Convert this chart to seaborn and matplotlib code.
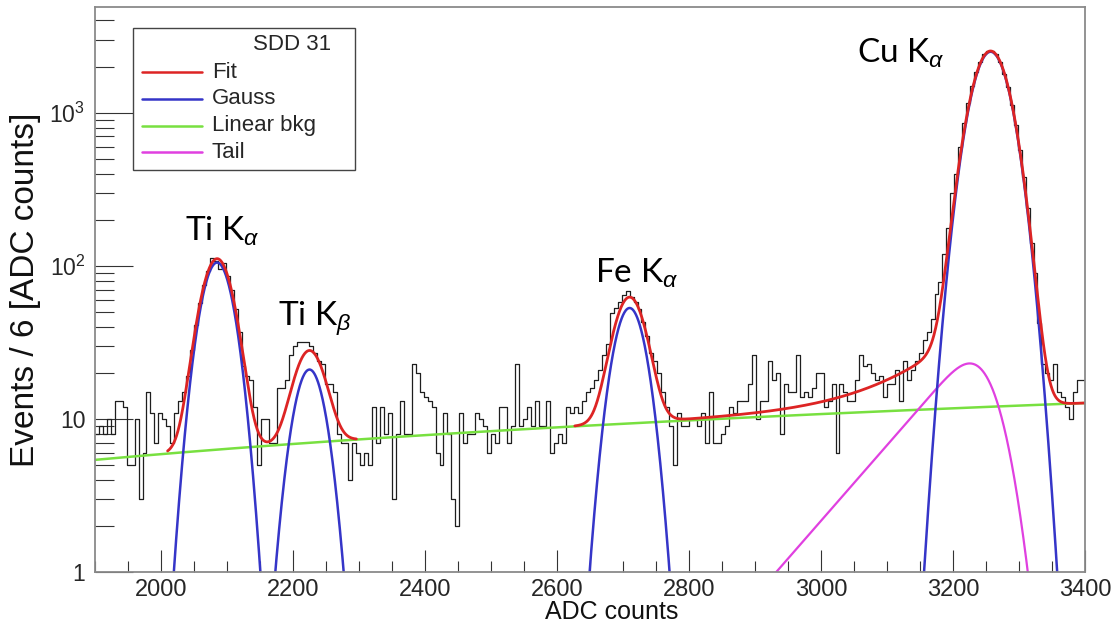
import math
import numpy as np
import pandas as pd
import matplotlib
matplotlib.use("Agg")
import matplotlib.pyplot as plt
import matplotlib.ticker as mticker
from matplotlib.patches import Rectangle
from matplotlib.lines import Line2D
import seaborn as sns

sns.set_theme(style="white")
plt.rcParams['font.family'] = ['Liberation Sans', 'DejaVu Sans']
plt.rcParams['mathtext.fontset'] = 'custom'
plt.rcParams['mathtext.rm'] = 'Liberation Sans'
plt.rcParams['mathtext.it'] = 'Liberation Sans:italic'

# --- histogram: 250 bins of 6 ADC counts, 1900..3400 ---
BIN_LO, BIN_HI, BIN_W = 1900, 3400, 6
counts = [
    8, 9, 8, 10, 8, 13, 13, 12, 5, 5,
    10, 3, 6, 15, 11, 7, 11, 10, 9, 7,
    11, 13, 15, 19, 28, 41, 57, 75, 92, 112,
    108, 95, 105, 86, 70, 52, 37, 22, 19, 18,
    12, 5, 10, 10, 7, 7, 16, 16, 18, 26,
    30, 32, 32, 32, 30, 27, 24, 23, 17, 17,
    15, 8, 7, 7, 4, 7, 6, 5, 6, 5,
    12, 7, 12, 8, 11, 3, 8, 13, 8, 8,
    23, 20, 15, 14, 13, 12, 6, 5, 11, 8,
    3, 2, 11, 7, 8, 8, 11, 10, 9, 6,
    8, 7, 12, 12, 7, 9, 23, 9, 10, 12,
    9, 13, 9, 9, 13, 6, 7, 8, 7, 12,
    11, 12, 11, 13, 15, 16, 18, 21, 26, 31,
    49, 53, 58, 64, 68, 63, 58, 52, 43, 35,
    27, 24, 20, 15, 12, 9, 5, 11, 9, 9,
    10, 10, 9, 11, 7, 15, 7, 7, 8, 9,
    12, 11, 13, 13, 13, 17, 26, 10, 13, 13,
    24, 18, 20, 8, 17, 15, 15, 26, 14, 15,
    14, 16, 20, 20, 12, 13, 17, 6, 17, 15,
    13, 13, 18, 26, 22, 23, 20, 18, 19, 14,
    17, 17, 21, 13, 24, 18, 21, 24, 27, 33,
    37, 45, 65, 78, 120, 177, 297, 400, 600, 850,
    1150, 1500, 1850, 2150, 2400, 2530, 2530, 2400, 2150, 1800,
    1480, 1130, 830, 570, 380, 240, 140, 90, 42, 23,
    20, 18, 23, 15, 14, 12, 10, 15, 18, 18,
]

# --- fit components ---
bkg_ends = (5.4, 12.7)          # linear background at 1900 and 3400
peak_names = ['Ti Ka', 'Ti Kb', 'Fe Ka', 'Cu Ka']
peak_amp = [105, 21, 53, 2500]
peak_mean = [2085, 2225, 2710, 3257]
peak_sigma = [21.5, 21, 21.5, 25.5]
tail_amp, tail_mean, tail_sigma, tail_beta = 20.8, 3260, 28, 3.14
fit_ranges = [(2010, 2296), (2627, 3400)]

peak_labels = [r'Ti K$_{\alpha}$', r'Ti K$_{\beta}$', r'Fe K$_{\alpha}$', r'Cu K$_{\alpha}$']
label_x = [2036, 2177, 2658, 3055]
label_y = [146, 40.4, 77.4, 2113]

legend_names = ['Fit', 'Gauss', 'Linear bkg', 'Tail']
c_fit, c_gauss, c_bkg, c_tail = '#dd2424', '#3535c8', '#78e040', '#e040e0'

_erfc = np.vectorize(math.erfc)


def bkg(x):
    return bkg_ends[0] + (bkg_ends[1] - bkg_ends[0]) * (x - BIN_LO) / (BIN_HI - BIN_LO)


def gauss(x, a, mu, sig):
    return a * np.exp(-0.5 * ((x - mu) / sig) ** 2)


def tail(x):
    u = (x - tail_mean) / tail_sigma
    return tail_amp * np.exp(u / tail_beta) * _erfc(u / np.sqrt(2) + 1 / (np.sqrt(2) * tail_beta))


def total(x):
    y = bkg(x) + tail(x)
    for a, mu, s in zip(peak_amp, peak_mean, peak_sigma):
        y = y + gauss(x, a, mu, s)
    return y


fig = plt.figure(figsize=(11.17, 6.30), dpi=100)
ax = fig.add_axes([95 / 1117, 58 / 630, 990 / 1117, 565 / 630])

df = pd.DataFrame({'adc': np.arange(BIN_LO, BIN_HI, BIN_W) + BIN_W / 2, 'events': counts})
sns.histplot(data=df, x='adc', weights='events', binwidth=BIN_W, binrange=(BIN_LO, BIN_HI),
             element='step', fill=False, color='#1e1e1e', linewidth=0.9, ax=ax)

xs = np.linspace(BIN_LO, BIN_HI, 3001)
sns.lineplot(x=xs, y=bkg(xs), color=c_bkg, linewidth=1.8, ax=ax, legend=False)
sns.lineplot(x=xs, y=np.maximum(tail(xs), 1e-3), color=c_tail, linewidth=1.6, ax=ax, legend=False)
for a, mu, s in zip(peak_amp, peak_mean, peak_sigma):
    sns.lineplot(x=xs, y=np.maximum(gauss(xs, a, mu, s), 1e-3), color=c_gauss,
                 linewidth=1.8, ax=ax, legend=False)
for lo, hi in fit_ranges:
    xf = np.linspace(lo, hi, 1200)
    sns.lineplot(x=xf, y=total(xf), color=c_fit, linewidth=2.0, ax=ax, legend=False)

ax.set_yscale('log')
ax.set_xlim(BIN_LO, BIN_HI)
ax.set_ylim(1, 4900)

ax.xaxis.set_major_locator(mticker.MultipleLocator(200))
ax.xaxis.set_minor_locator(mticker.MultipleLocator(50))
ax.yaxis.set_major_locator(mticker.LogLocator(base=10, numticks=10))
ax.yaxis.set_minor_locator(mticker.LogLocator(base=10, subs=np.arange(2, 10), numticks=20))
ax.yaxis.set_minor_formatter(mticker.NullFormatter())


def ylab(v, pos):
    if v < 1.5:
        return '1'
    if v < 15:
        return '10'
    return r'$10^{%d}$' % int(round(np.log10(v)))


ax.yaxis.set_major_formatter(mticker.FuncFormatter(ylab))
ax.tick_params(axis='x', which='major', direction='in', length=16, width=0.8,
               color='#333333', labelsize=17, pad=5, bottom=True, top=False)
ax.tick_params(axis='x', which='minor', direction='in', length=8, width=0.8,
               color='#333333', bottom=True, top=False)
ax.tick_params(axis='y', which='major', direction='in', length=27, width=0.8,
               color='#333333', labelsize=16.5, pad=7, left=True, right=False)
ax.tick_params(axis='y', which='minor', direction='in', length=14, width=0.8,
               color='#333333', left=True, right=False)
for sp in ax.spines.values():
    sp.set_color('#8a8a8a')
    sp.set_linewidth(1.3)

ax.set_xlabel('ADC counts', fontsize=18, color='#111111')
ax.xaxis.set_label_coords(0.522, -0.05)
ax.xaxis.label.set_va('top')
ax.set_ylabel('Events / 6 [ADC counts]', fontsize=24, color='#111111')
ax.yaxis.set_label_coords(-0.0697, 0.5)
ax.yaxis.label.set_va('center')

for txt, lx, ly in zip(peak_labels, label_x, label_y):
    ax.text(lx, ly, txt, fontsize=24, family=['Lato', 'DejaVu Sans'],
            ha='left', va='baseline', color='black')


# --- ROOT style legend box ---
def fx(px):
    return px / 1117


def fy(py):
    return 1 - py / 630


fig.patches.append(Rectangle((fx(133), fy(170)), fx(355) - fx(133), fy(28) - fy(170),
                             transform=fig.transFigure, facecolor='white',
                             edgecolor='#444444', linewidth=1.0, zorder=5))
fig.text(fx(292), fy(45), 'SDD 31', fontsize=16, ha='center', va='center', zorder=6)
for name, col, py in zip(legend_names, [c_fit, c_gauss, c_bkg, c_tail], [72, 99, 126, 152]):
    fig.lines.append(Line2D([fx(142), fx(202)], [fy(py), fy(py)], transform=fig.transFigure,
                            color=col, linewidth=1.8, zorder=6))
    fig.text(fx(212), fy(py), name, fontsize=16, ha='left', va='center', zorder=6)

fig.savefig('out.png', dpi=100)
